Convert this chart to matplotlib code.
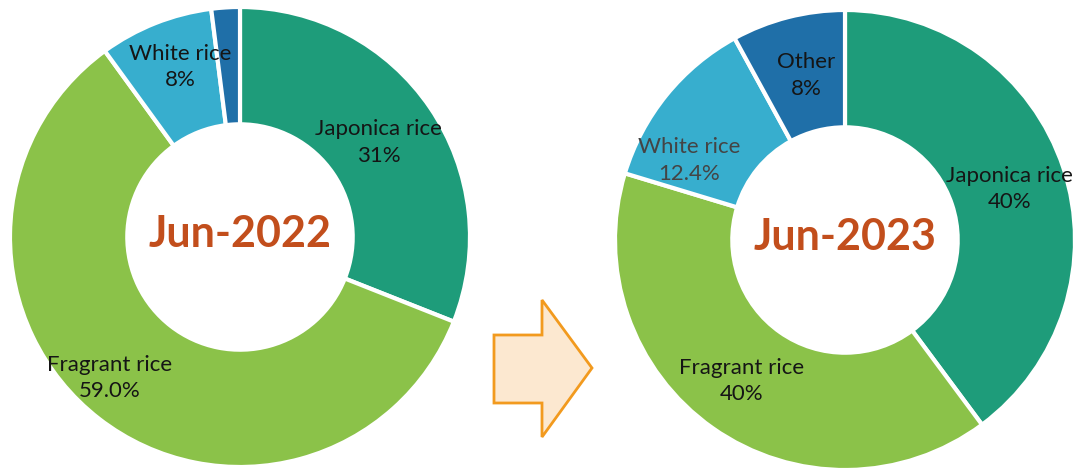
import numpy as np
import matplotlib.pyplot as plt
from matplotlib.patches import Polygon

plt.rcParams['font.family'] = ['Lato', 'DejaVu Sans']

# data
categories = ["Japonica rice", "Fragrant rice", "White rice", "Other"]
share_2022 = [31, 59.0, 8, 2]
share_2023 = [40, 40, 12.4, 8]
pct_2022 = ["31%", "59.0%", "8%", ""]
pct_2023 = ["40%", "40%", "12.4%", "8%"]
titles = ["Jun-2022", "Jun-2023"]

colors = ["#1E9C7A", "#8BC249", "#37AECE", "#1F6FA8"]
label_colors_2022 = ["#151515", "#151515", "#151515", "#151515"]
label_colors_2023 = ["#151515", "#151515", "#444444", "#151515"]

W, H = 1074, 468
fig = plt.figure(figsize=(W / 100, H / 100), dpi=100)
ax = fig.add_axes([0, 0, 1, 1])

R = 230
hole = 0.49
ring = 1 - hole


def donut(center, values, pcts, title, txt_colors, label_r, label_shift):
    ax.pie(values, center=center, radius=R, colors=colors,
           startangle=90, counterclock=False,
           wedgeprops=dict(width=R * ring, edgecolor="white", linewidth=3))
    total = sum(values)
    start = 90
    for i, (v, cat, p) in enumerate(zip(values, categories, pcts)):
        sweep = v / total * 360
        mid = np.deg2rad(start - sweep / 2 + label_shift[i])
        start -= sweep
        if not p:
            continue
        r = R * label_r[i]
        x = center[0] + r * np.cos(mid)
        y = center[1] + r * np.sin(mid)
        ax.text(x, y, f"{cat}\n{p}", ha="center", va="center", fontsize=16,
                color=txt_colors[i], linespacing=1.4)
    ax.text(center[0], center[1] + 3, title, ha="center", va="center",
            fontsize=31, fontweight="bold", color="#C24E1C")


donut((240, H - 237), share_2022, pct_2022, titles[0], label_colors_2022,
      [0.73, 0.834, 0.785, 0.745], [0, -4.9, -2.2, 0])
donut((845, H - 240), share_2023, pct_2023, titles[1], label_colors_2023,
      [0.75, 0.76, 0.76, 0.735], [-1, -1, 12, -1])

# arrow between the two donuts
arrow = Polygon([(494, H - 335), (542, H - 335), (542, H - 300), (592, H - 368),
                 (542, H - 437), (542, H - 403), (494, H - 403)],
                closed=True, facecolor="#FCE8D0", edgecolor="#F29A1E", linewidth=2)
ax.add_patch(arrow)

# pie() resets the limits, so fix them afterwards
ax.set_xlim(0, W)
ax.set_ylim(0, H)
ax.set_aspect("equal")
ax.axis("off")

fig.savefig("out.png", dpi=100)
